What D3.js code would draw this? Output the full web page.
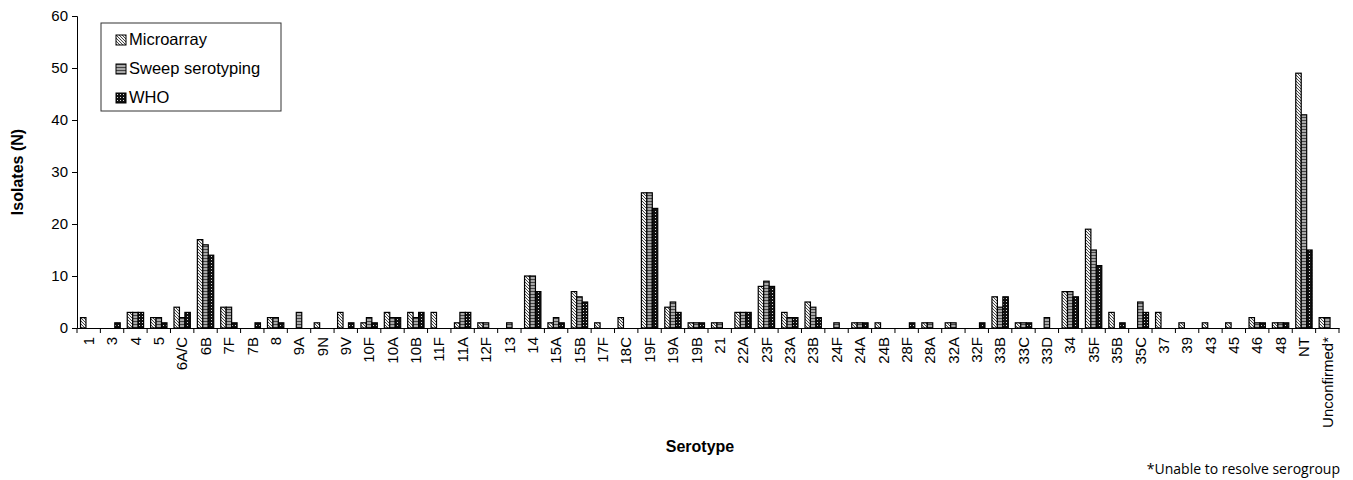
<!DOCTYPE html>
<html>
<head>
<meta charset="utf-8">
<script src="https://cdn.jsdelivr.net/npm/d3@7"></script>
<style>
  body { margin: 0; background: #fff; }
  svg { display: block; }
</style>
</head>
<body>
<div id="chart"></div>
<script>
// serotype categories along the x axis
var categories = ['1', '3', '4', '5', '6A/C', '6B', '7F', '7B', '8', '9A', '9N', '9V', '10F', '10A', '10B',
    '11F', '11A', '12F', '13', '14', '15A', '15B', '17F', '18C', '19F', '19A', '19B', '21', '22A', '23F',
    '23A', '23B', '24F', '24A', '24B', '28F', '28A', '32A', '32F', '33B', '33C', '33D', '34', '35F', '35B',
    '35C', '37', '39', '43', '45', '46', '48', 'NT', 'Unconfirmed*'];

var seriesNames = ['Microarray', 'Sweep serotyping', 'WHO'];

var microarray = [2, 0, 3, 2, 4, 17, 4, 0, 2, 0, 1, 3, 1, 3, 3,
    3, 1, 1, 0, 10, 1, 7, 1, 2, 26, 4, 1, 1, 3, 8,
    3, 5, 0, 1, 1, 0, 1, 1, 0, 6, 1, 0, 7, 19, 3,
    0, 3, 1, 1, 1, 2, 1, 49, 2];

var sweep = [0, 0, 3, 2, 2, 16, 4, 0, 2, 3, 0, 0, 2, 2, 2,
    0, 3, 1, 1, 10, 2, 6, 0, 0, 26, 5, 1, 1, 3, 9,
    2, 4, 1, 1, 0, 0, 1, 1, 0, 4, 1, 2, 7, 15, 0,
    5, 0, 0, 0, 0, 1, 1, 41, 2];

var who = [0, 1, 3, 1, 3, 14, 1, 1, 1, 0, 0, 1, 1, 2, 3,
    0, 3, 0, 0, 7, 1, 5, 0, 0, 23, 3, 1, 0, 3, 8,
    2, 2, 0, 1, 0, 1, 0, 0, 1, 6, 1, 0, 6, 12, 1,
    3, 0, 0, 0, 0, 1, 1, 15, 0];

var yTicks = [0, 10, 20, 30, 40, 50, 60];

var width = 1353, height = 480;
var margin = { left: 77, right: 14, top: 16, bottom: 152 };

var svg = d3.select('#chart').append('svg')
    .attr('width', width)
    .attr('height', height)
    .style('font-family', 'Arial, "Liberation Sans", sans-serif');

// fill patterns, one per series
var defs = svg.append('defs');

var pMicro = defs.append('pattern').attr('id', 'p-micro')
    .attr('patternUnits', 'userSpaceOnUse').attr('width', 3).attr('height', 3);
pMicro.append('rect').attr('width', 3).attr('height', 3).attr('fill', '#f2f2f2');
pMicro.append('path').attr('d', 'M-1,-1 L4,4 M-1,2 L1,4 M2,-1 L4,1')
    .attr('stroke', '#333').attr('stroke-width', 0.9);

var pSweep = defs.append('pattern').attr('id', 'p-sweep')
    .attr('patternUnits', 'userSpaceOnUse').attr('width', 3).attr('height', 3);
pSweep.append('rect').attr('width', 3).attr('height', 3).attr('fill', '#a8a8a8');
pSweep.append('rect').attr('y', 0).attr('width', 3).attr('height', 1).attr('fill', '#444');

var pWho = defs.append('pattern').attr('id', 'p-who')
    .attr('patternUnits', 'userSpaceOnUse').attr('width', 3).attr('height', 3);
pWho.append('rect').attr('width', 3).attr('height', 3).attr('fill', '#111');
pWho.append('rect').attr('x', 1).attr('y', 1).attr('width', 1).attr('height', 1).attr('fill', '#ddd');

var fills = ['url(#p-micro)', 'url(#p-sweep)', 'url(#p-who)'];
var seriesValues = [microarray, sweep, who];

var x = d3.scaleBand()
    .domain(categories)
    .range([margin.left, width - margin.right])
    .paddingInner(0)
    .paddingOuter(0);

// the three bars of a serotype fill about 70% of its slot
var groupWidth = x.bandwidth() * 0.7;
var xInner = d3.scaleBand()
    .domain(d3.range(seriesNames.length))
    .range([0, groupWidth]);

var y = d3.scaleLinear()
    .domain([0, 60])
    .range([height - margin.bottom, margin.top]);

// bars
seriesValues.forEach(function (values, s) {
    svg.append('g')
        .selectAll('rect')
        .data(values.map(function (v, i) { return { cat: categories[i], value: v }; })
            .filter(function (d) { return d.value > 0; }))
        .enter()
        .append('rect')
        .attr('x', function (d) { return x(d.cat) + (x.bandwidth() - groupWidth) / 2 + xInner(s); })
        .attr('y', function (d) { return y(d.value); })
        .attr('width', xInner.bandwidth())
        .attr('height', function (d) { return y(0) - y(d.value); })
        .attr('fill', fills[s])
        .attr('stroke', '#000')
        .attr('stroke-width', 1.2);
});

// y axis
var yAxis = svg.append('g')
    .attr('transform', 'translate(' + margin.left + ',0)')
    .call(d3.axisLeft(y).tickValues(yTicks).tickSize(5).tickPadding(4));
yAxis.selectAll('text').style('font-size', '15px').attr('fill', '#000');
yAxis.selectAll('line, path').attr('stroke', '#000');

// x axis, ticks on category boundaries
var xAxis = svg.append('g')
    .attr('transform', 'translate(0,' + y(0) + ')')
    .call(d3.axisBottom(x).tickSize(0).tickPadding(0));
xAxis.select('.domain').attr('stroke', '#000');
xAxis.selectAll('.tick line').remove();
xAxis.selectAll('text')
    .style('font-size', '15px')
    .attr('fill', '#000')
    .attr('text-anchor', 'end')
    .attr('dy', '0.35em')
    .attr('transform', 'translate(0,9) rotate(-90)');

xAxis.selectAll('.boundary')
    .data(categories.concat(['end']))
    .enter()
    .append('line')
    .attr('class', 'boundary')
    .attr('x1', function (d, i) { return margin.left + i * x.bandwidth(); })
    .attr('x2', function (d, i) { return margin.left + i * x.bandwidth(); })
    .attr('y1', 0)
    .attr('y2', 5)
    .attr('stroke', '#000');

// axis titles
svg.append('text')
    .attr('transform', 'translate(23,' + ((margin.top + y(0)) / 2) + ') rotate(-90)')
    .attr('text-anchor', 'middle')
    .style('font-size', '16px')
    .style('font-weight', 'bold')
    .text('Isolates (N)');

svg.append('text')
    .attr('x', 700)
    .attr('y', 452)
    .attr('text-anchor', 'middle')
    .style('font-size', '16px')
    .style('font-weight', 'bold')
    .text('Serotype');

svg.append('text')
    .attr('x', 1340)
    .attr('y', 474)
    .attr('text-anchor', 'end')
    .style('font-family', '"Open Sans", sans-serif')
    .style('font-size', '14px')
    .text('*Unable to resolve serogroup');

// legend
var legend = svg.append('g').attr('transform', 'translate(101,23)');
legend.append('rect')
    .attr('width', 180)
    .attr('height', 88)
    .attr('fill', '#fff')
    .attr('stroke', '#333');

var legendItem = legend.selectAll('.legend')
    .data(seriesNames)
    .enter()
    .append('g')
    .attr('class', 'legend')
    .attr('transform', function (d, i) { return 'translate(15,' + (12 + i * 29) + ')'; });

legendItem.append('rect')
    .attr('width', 10)
    .attr('height', 10)
    .attr('fill', function (d, i) { return fills[i]; })
    .attr('stroke', '#000');

legendItem.append('text')
    .attr('x', 13)
    .attr('y', 10)
    .style('font-size', '16.5px')
    .text(function (d) { return d; });
</script>
</body>
</html>
